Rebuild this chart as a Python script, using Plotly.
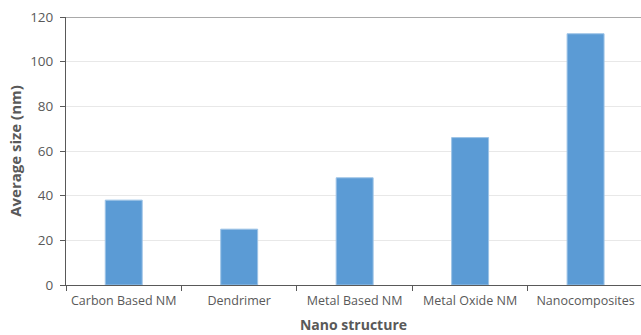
import plotly.graph_objects as go

categories = ["Carbon Based NM", "Dendrimer", "Metal Based NM", "Metal Oxide NM", "Nanocomposites"]
avg_size_nm = [38, 25, 48, 66, 112.5]
y_ticks = [0, 20, 40, 60, 80, 100, 120]

axis_grey = "#595959"
font_family = "Open Sans, Noto Sans, sans-serif"

fig = go.Figure(
    go.Bar(
        x=categories,
        y=avg_size_nm,
        marker=dict(color="#5B9BD5", line=dict(color="#9dc3e6", width=1)),
    )
)

fig.update_layout(
    width=641,
    height=335,
    margin=dict(l=66, r=0, t=17, b=50),
    paper_bgcolor="white",
    plot_bgcolor="white",
    bargap=0.68,
    showlegend=False,
    font=dict(family=font_family, size=12, color=axis_grey),
    shapes=[
        dict(
            type="line", xref="paper", yref="y",
            x0=0, x1=1, y0=120, y1=120,
            line=dict(color="#8c8c8c", width=1.5),
        )
    ],
)

fig.update_xaxes(
    range=[-0.5, 4.48],
    showline=True,
    linecolor=axis_grey,
    linewidth=1,
    ticks="outside",
    tickson="boundaries",
    ticklen=5,
    tickcolor=axis_grey,
    tickangle=0,
    automargin=False,
    ticklabelstandoff=4,
    tickfont=dict(size=12.5, color=axis_grey),
    title=dict(text="<b>Nano structure</b>", font=dict(size=14, color=axis_grey), standoff=12),
    showgrid=False,
)

fig.update_yaxes(
    range=[0, 120],
    tickvals=y_ticks,
    showline=True,
    linecolor=axis_grey,
    linewidth=1,
    ticks="outside",
    ticklen=5,
    tickcolor=axis_grey,
    automargin=False,
    ticklabelstandoff=4,
    tickfont=dict(size=13.5, color=axis_grey),
    showgrid=True,
    gridcolor="#e8e8e8",
    gridwidth=1,
    zeroline=False,
    title=dict(text="<b>Average size (nm)</b>", font=dict(size=15, color=axis_grey), standoff=4),
)

fig.write_html("out.html")
